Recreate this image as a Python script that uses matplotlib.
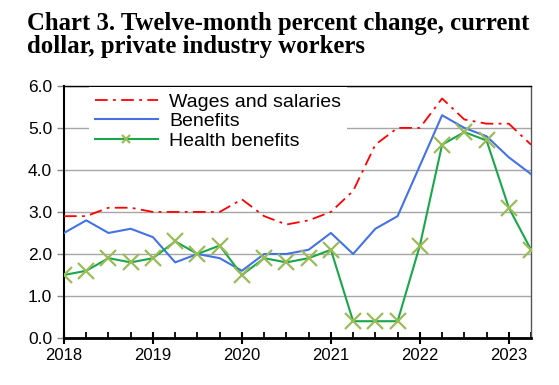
import numpy as np
import matplotlib.pyplot as plt
from matplotlib.ticker import MultipleLocator

# quarterly, 2018 Q1 through 2023 Q2
quarters = np.arange(2018, 2023.5, 0.25)
wages = [2.9, 2.9, 3.1, 3.1, 3.0, 3.0, 3.0, 3.0, 3.3, 2.9, 2.7, 2.8,
         3.0, 3.5, 4.6, 5.0, 5.0, 5.7, 5.2, 5.1, 5.1, 4.6]
benefits = [2.5, 2.8, 2.5, 2.6, 2.4, 1.8, 2.0, 1.9, 1.6, 2.0, 2.0, 2.1,
            2.5, 2.0, 2.6, 2.9, 4.1, 5.3, 5.0, 4.8, 4.3, 3.9]
health = [1.5, 1.6, 1.9, 1.8, 1.9, 2.3, 2.0, 2.2, 1.5, 1.9, 1.8, 1.9,
          2.1, 0.4, 0.4, 0.4, 2.2, 4.6, 4.9, 4.7, 3.1, 2.1]
years = [2018, 2019, 2020, 2021, 2022, 2023]

plt.rcParams['font.family'] = ['Liberation Sans', 'DejaVu Sans']

fig = plt.figure(figsize=(5.59, 3.85), dpi=100)
ax = fig.add_axes([0.1145, 0.122, 0.8355, 0.655])

fig.text(0.048, 0.968, "Chart 3. Twelve-month percent change, current\ndollar, private industry workers",
         family='Liberation Serif', weight='bold', fontsize=17.8, va='top', ha='left',
         linespacing=1.0)

ax.plot(quarters, wages, color='#FF0000', lw=1.3, dashes=(7, 3, 1.5, 3),
        label='Wages and salaries', zorder=3)
ax.plot(quarters, benefits, color='#4472E4', lw=1.5, label='Benefits', zorder=3)
ax.plot(quarters, health, color='#1AA64A', lw=1.5, marker='x', markersize=11,
        markeredgewidth=1.6, markeredgecolor='#9BBB59', label='Health benefits', zorder=4)

ax.set_xlim(2018, quarters[-1])
ax.set_ylim(0, 6)
ax.yaxis.set_major_locator(MultipleLocator(1))
ax.set_yticklabels([f"{v:.1f}" for v in ax.get_yticks()])
ax.set_xticks(years)
ax.set_xticklabels([str(y) for y in years])
ax.xaxis.set_minor_locator(MultipleLocator(0.25))
ax.tick_params(axis='x', which='major', direction='inout', length=9, width=1.5, labelsize=12, pad=3)
ax.tick_params(axis='x', which='minor', direction='in', length=4, width=1.3)
ax.tick_params(axis='y', direction='out', length=5, width=1, labelsize=12.5, color='#888888')

ax.grid(axis='y', color='#A6A6A6', lw=1)
ax.set_axisbelow(True)
ax.spines['left'].set_linewidth(1.5)
ax.spines['bottom'].set_linewidth(2)
ax.spines['top'].set_linewidth(1)
ax.spines['right'].set_linewidth(1)
ax.spines['right'].set_color('#555555')

leg = ax.legend(loc='upper left', bbox_to_anchor=(0.053, 0.995), frameon=True, fontsize=14,
                handlelength=3.25, handletextpad=0.6, labelspacing=0.1, borderpad=0.3,
                borderaxespad=0, markerscale=0.5)
leg.get_frame().set_edgecolor('none')
leg.get_frame().set_facecolor('white')
leg.get_frame().set_alpha(1)
leg.get_frame().set_boxstyle('square', pad=0)

fig.savefig('out.png', dpi=100)
